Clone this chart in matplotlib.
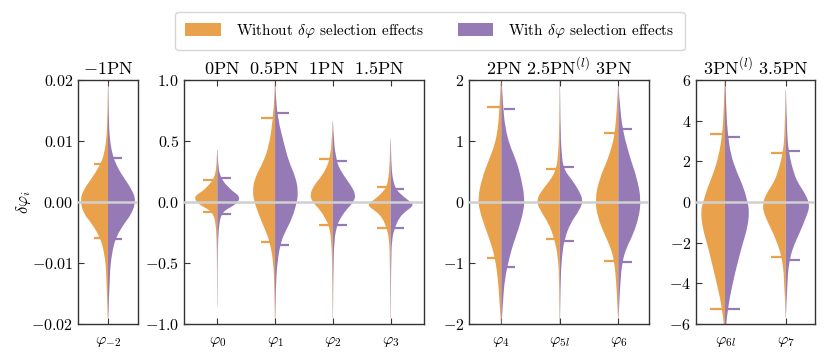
import matplotlib
matplotlib.use("Agg")
import matplotlib.pyplot as plt
from matplotlib.path import Path
from matplotlib.patches import PathPatch, Patch
from matplotlib.ticker import MultipleLocator

plt.rcParams["font.family"] = "cmr10"
plt.rcParams["mathtext.fontset"] = "cm"
plt.rcParams["axes.formatter.use_mathtext"] = True

ORANGE = "#EAA14B"
PURPLE = "#967AB6"

# panel layout: which parameters go in which panel
panel_params = [["m2"], ["0", "1", "2", "3"], ["4", "5l", "6"], ["6l", "7"]]
panel_titles = [r"$-1\mathrm{PN}$",
                r"$0\mathrm{PN}\ \ 0.5\mathrm{PN}\ \ 1\mathrm{PN}\ \ 1.5\mathrm{PN}$",
                r"$2\mathrm{PN}\ 2.5\mathrm{PN}^{(l)}\ 3\mathrm{PN}$",
                r"$3\mathrm{PN}^{(l)}\ 3.5\mathrm{PN}$"]
panel_ylim = [0.02, 1.0, 2.0, 6.0]
panel_ystep = [0.01, 0.5, 1.0, 2.0]
tick_labels = {"m2": r"$\varphi_{-2}$", "0": r"$\varphi_0$", "1": r"$\varphi_1$",
               "2": r"$\varphi_2$", "3": r"$\varphi_3$", "4": r"$\varphi_4$",
               "5l": r"$\varphi_{5l}$", "6": r"$\varphi_6$", "6l": r"$\varphi_{6l}$",
               "7": r"$\varphi_7$"}

# violin outlines: y levels and half widths (slot units)
knots_y = {
    "m2": [-0.019, -0.0117, -0.0084, -0.0059, -0.0035, -0.0019, 0.0003, 0.002,
           0.0036, 0.0052, 0.0068, 0.0085, 0.0105, 0.0135, 0.0195],
    "0": [-0.85, -0.5, -0.3, -0.17, -0.1, -0.063, -0.036, 0.0, 0.046, 0.087,
          0.128, 0.17, 0.23, 0.3, 0.43],
    "1": [-0.95, -0.7, -0.49, -0.33, -0.24, -0.13, 0.0, 0.087, 0.2, 0.33, 0.47,
          0.69, 0.88, 0.98],
    "2": [-0.95, -0.6, -0.3, -0.185, -0.145, -0.077, 0.0, 0.06, 0.14, 0.22, 0.3,
          0.355, 0.47, 0.66],
    "3": [-0.95, -0.5, -0.3, -0.21, -0.13, -0.077, -0.03, 0.0, 0.046, 0.087,
          0.12, 0.2, 0.3, 0.52],
    "4": [-2.0, -1.68, -1.25, -0.91, -0.7, -0.43, -0.15, 0.065, 0.39, 0.67, 0.94,
          1.21, 1.55, 2.0],
    "5l": [-2.0, -1.3, -0.9, -0.61, -0.35, -0.13, 0.03, 0.2, 0.36, 0.54, 0.8,
           1.23, 2.0],
    "6": [-1.9, -1.35, -0.97, -0.75, -0.54, -0.26, 0.04, 0.39, 0.67, 0.94, 1.13,
          1.5, 1.9],
    "6l": [-6.0, -5.26, -4.07, -3.08, -2.1, -1.28, -0.46, 0.0, 0.69, 1.5, 2.33,
           3.34, 4.5, 6.0],
    "7": [-5.7, -3.74, -2.72, -2.1, -1.44, -0.79, -0.2, 0.36, 0.85, 1.34, 2.41,
          3.5, 5.5],
}
width_without = {
    "m2": [0.006, 0.023, 0.063, 0.13, 0.28, 0.42, 0.48, 0.42, 0.30, 0.19, 0.10,
           0.055, 0.025, 0.01, 0.0],
    "0": [0.003, 0.006, 0.012, 0.03, 0.07, 0.145, 0.26, 0.36, 0.40, 0.26, 0.17,
          0.09, 0.035, 0.012, 0.003],
    "1": [0.004, 0.01, 0.03, 0.09, 0.16, 0.26, 0.36, 0.39, 0.35, 0.20, 0.10,
          0.035, 0.01, 0.003],
    "2": [0.003, 0.008, 0.023, 0.075, 0.12, 0.2, 0.35, 0.40, 0.32, 0.18, 0.09,
          0.06, 0.017, 0.003],
    "3": [0.003, 0.01, 0.023, 0.07, 0.14, 0.25, 0.40, 0.34, 0.21, 0.13, 0.07,
          0.035, 0.015, 0.003],
    "4": [0.005, 0.028, 0.057, 0.11, 0.17, 0.27, 0.37, 0.40, 0.33, 0.22, 0.11,
          0.057, 0.03, 0.006],
    "5l": [0.003, 0.01, 0.03, 0.09, 0.19, 0.34, 0.40, 0.30, 0.16, 0.06, 0.025,
           0.008, 0.002],
    "6": [0.005, 0.03, 0.07, 0.13, 0.23, 0.35, 0.40, 0.32, 0.19, 0.10, 0.06,
          0.025, 0.005],
    "6l": [0.02, 0.045, 0.13, 0.21, 0.29, 0.37, 0.40, 0.36, 0.29, 0.18, 0.10,
           0.045, 0.02, 0.005],
    "7": [0.003, 0.022, 0.065, 0.13, 0.22, 0.33, 0.39, 0.33, 0.22, 0.14, 0.045,
          0.015, 0.003],
}
width_with = {
    "m2": [0.006, 0.028, 0.068, 0.13, 0.28, 0.41, 0.48, 0.41, 0.30, 0.19, 0.11,
           0.06, 0.03, 0.012, 0.006],
    "0": [0.003, 0.006, 0.014, 0.035, 0.075, 0.15, 0.26, 0.36, 0.39, 0.27, 0.18,
          0.10, 0.04, 0.015, 0.004],
    "1": [0.005, 0.012, 0.04, 0.1, 0.18, 0.30, 0.38, 0.40, 0.36, 0.24, 0.16,
          0.045, 0.012, 0.004],
    "2": [0.003, 0.008, 0.025, 0.08, 0.12, 0.21, 0.36, 0.40, 0.31, 0.185, 0.09,
          0.065, 0.02, 0.004],
    "3": [0.003, 0.01, 0.025, 0.075, 0.15, 0.26, 0.40, 0.35, 0.22, 0.13, 0.08,
          0.035, 0.015, 0.003],
    "4": [0.005, 0.025, 0.06, 0.14, 0.2, 0.30, 0.38, 0.40, 0.34, 0.26, 0.14,
          0.07, 0.03, 0.006],
    "5l": [0.003, 0.012, 0.035, 0.08, 0.18, 0.34, 0.40, 0.32, 0.21, 0.065, 0.03,
           0.01, 0.003],
    "6": [0.005, 0.03, 0.07, 0.14, 0.25, 0.35, 0.39, 0.32, 0.22, 0.14, 0.09,
          0.03, 0.006],
    "6l": [0.02, 0.045, 0.12, 0.20, 0.285, 0.37, 0.40, 0.37, 0.31, 0.19, 0.095,
           0.045, 0.02, 0.006],
    "7": [0.003, 0.025, 0.07, 0.14, 0.24, 0.33, 0.40, 0.33, 0.22, 0.14, 0.05,
          0.018, 0.004],
}
# 90% credible bounds (lower, upper)
ci_without = {"m2": (-0.0059, 0.0063), "0": (-0.085, 0.18), "1": (-0.33, 0.69),
              "2": (-0.185, 0.355), "3": (-0.21, 0.12), "4": (-0.91, 1.55),
              "5l": (-0.61, 0.54), "6": (-0.97, 1.13), "6l": (-5.26, 3.34),
              "7": (-2.72, 2.41)}
ci_with = {"m2": (-0.0060, 0.0072), "0": (-0.095, 0.195), "1": (-0.355, 0.73),
           "2": (-0.19, 0.335), "3": (-0.21, 0.11), "4": (-1.07, 1.53),
           "5l": (-0.64, 0.58), "6": (-0.99, 1.2), "6l": (-5.26, 3.18),
           "7": (-2.84, 2.52)}

# axes placement in pixels (left, width) and x limits per panel
panel_px = [(78, 60), (184, 240), (469, 180), (696, 119)]
panel_xlim = [(-0.515, 0.515), (-0.577, 3.58), (-0.552, 2.525), (-0.478, 1.482)]


def half_violin(ax, x0, ys, ws, side, color):
    # smooth outline through the read-off knots (quadratic B-spline style)
    pts = [(x0 + side * w, y) for y, w in zip(ys, ws)]
    verts = [(x0, ys[0]), pts[0]]
    codes = [Path.MOVETO, Path.LINETO]
    for i in range(1, len(pts) - 1):
        if i < len(pts) - 2:
            end = ((pts[i][0] + pts[i + 1][0]) / 2, (pts[i][1] + pts[i + 1][1]) / 2)
        else:
            end = pts[i + 1]
        verts += [pts[i], end]
        codes += [Path.CURVE3, Path.CURVE3]
    verts += [(x0, ys[-1]), (x0, ys[0])]
    codes += [Path.LINETO, Path.CLOSEPOLY]
    ax.add_patch(PathPatch(Path(verts, codes), facecolor=color, edgecolor="none",
                           lw=0, zorder=2))


W, H = 830, 361
fig = plt.figure(figsize=(W / 100, H / 100), dpi=100)

for k, params in enumerate(panel_params):
    left, width = panel_px[k]
    ax = fig.add_axes([left / W, 37 / H, width / W, 244 / H])
    for i, p in enumerate(params):
        half_violin(ax, i, knots_y[p], width_without[p], -1, ORANGE)
        half_violin(ax, i, knots_y[p], width_with[p], 1, PURPLE)
        for yv in ci_without[p]:
            ax.plot([i - 0.24, i], [yv, yv], color=ORANGE, lw=1.6, zorder=3,
                    solid_capstyle="butt")
        for yv in ci_with[p]:
            ax.plot([i + 0.04, i + 0.24], [yv, yv], color=PURPLE, lw=1.6, zorder=3,
                    solid_capstyle="butt")
    ax.axhline(0, color="#d0d0d0", lw=1.8, zorder=4)
    lim = panel_ylim[k]
    ax.set_ylim(-lim, lim)
    ax.set_xlim(*panel_xlim[k])
    ax.yaxis.set_major_locator(MultipleLocator(panel_ystep[k]))
    ax.set_xticks(range(len(params)))
    ax.set_xticklabels([tick_labels[p] for p in params], fontsize=10)
    ax.tick_params(direction="in", top=True, length=4, width=0.8,
                   labelsize=11.5, colors="#333333", labelcolor="black")
    ax.tick_params(axis="x", pad=8)
    for s in ax.spines.values():
        s.set_color("#333333")
        s.set_linewidth(1.0)
    ax.set_title(panel_titles[k], fontsize=13, pad=4)
    if k == 0:
        ax.set_ylabel(r"$\delta\varphi_i$", fontsize=12, labelpad=-1)

handles = [Patch(facecolor=ORANGE, edgecolor="none"),
           Patch(facecolor=PURPLE, edgecolor="none")]
fig.legend(handles,
           [r"Without $\delta\varphi$ selection effects",
            r"With $\delta\varphi$ selection effects"],
           loc="center", bbox_to_anchor=(430 / W, 1 - 31 / H), ncol=2,
           fontsize=11, frameon=True, fancybox=True, edgecolor="#cccccc",
           handlelength=2.3, handleheight=0.9, handletextpad=1.0,
           columnspacing=2.2, borderpad=0.65)

fig.savefig("out.png", dpi=100)
